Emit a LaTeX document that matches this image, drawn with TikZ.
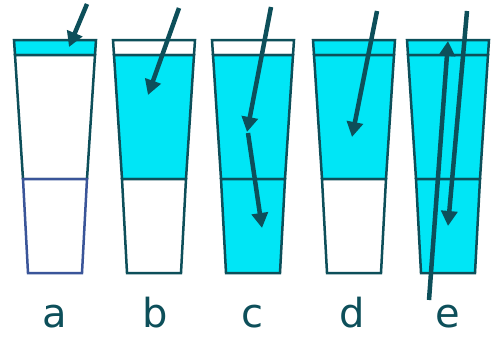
\documentclass[tikz,border=0pt]{standalone}
\usepackage{fontspec}
\setmainfont{DejaVu Sans}
\usetikzlibrary{arrows.meta}
\definecolor{aqua}{HTML}{00E6F6}
\definecolor{dteal}{HTML}{0D4F5A}
\definecolor{navyline}{HTML}{3A5599}
\begin{document}
\begin{tikzpicture}[x=1pt,y=-1pt,
  glassline/.style={draw=dteal,line width=2.5pt,line join=miter},
  arr/.style={draw=dteal,line width=4.5pt,-{Triangle[length=15pt,width=16pt]}},
  lab/.style={text=dteal,font=\fontsize{40}{40}\selectfont,anchor=base,inner sep=0pt}]
\useasboundingbox (0,0) rectangle (500,340);
\newcommand\drawglass[5]{%
  \begin{scope}[shift={(#1,0)}]
    \filldraw[glassline,fill=#2] (-41,40) -- (41,40) -- (40,55) -- (-40,55) -- cycle;
    \filldraw[glassline,fill=#3] (-40,55) -- (40,55) -- (32,179) -- (-32,179) -- cycle;
    \filldraw[glassline,draw=#5,fill=#4] (-32,179) -- (32,179) -- (27,273) -- (-27,273) -- cycle;
  \end{scope}}
\drawglass{55}{aqua}{white}{white}{navyline}
\drawglass{154}{white}{aqua}{white}{dteal}
\drawglass{253}{white}{aqua}{aqua}{dteal}
\drawglass{354}{aqua}{aqua}{white}{dteal}
\drawglass{448}{aqua}{aqua}{aqua}{dteal}
% labels
\node[lab] (la) at (55,327) {a};
\node[lab] (lb) at (155,327) {b};
\node[lab] (lc) at (252,327) {c};
\node[lab] (ld) at (352,327) {d};
\node[lab] (le) at (448,327) {e};
% arrows
\coordinate (a1) at (87,4);   \coordinate (a2) at (69,47);
\coordinate (b1) at (179,8);  \coordinate (b2) at (148,95);
\coordinate (c1) at (271,7);  \coordinate (c2) at (247,132);
\coordinate (c3) at (248,133);\coordinate (c4) at (262,228);
\coordinate (d1) at (377,11); \coordinate (d2) at (352,137);
\coordinate (e1) at (467,11); \coordinate (e2) at (448,226);
\coordinate (e3) at (429,300);\coordinate (e4) at (448,41);
\draw[arr] (a1) -- (a2);
\draw[arr] (b1) -- (b2);
\draw[arr] (c1) -- (c2);
\draw[arr] (c3) -- (c4);
\draw[arr] (d1) -- (d2);
\draw[arr] (e1) -- (e2);
\draw[arr] (e3) -- (e4);
\end{tikzpicture}
\end{document}
